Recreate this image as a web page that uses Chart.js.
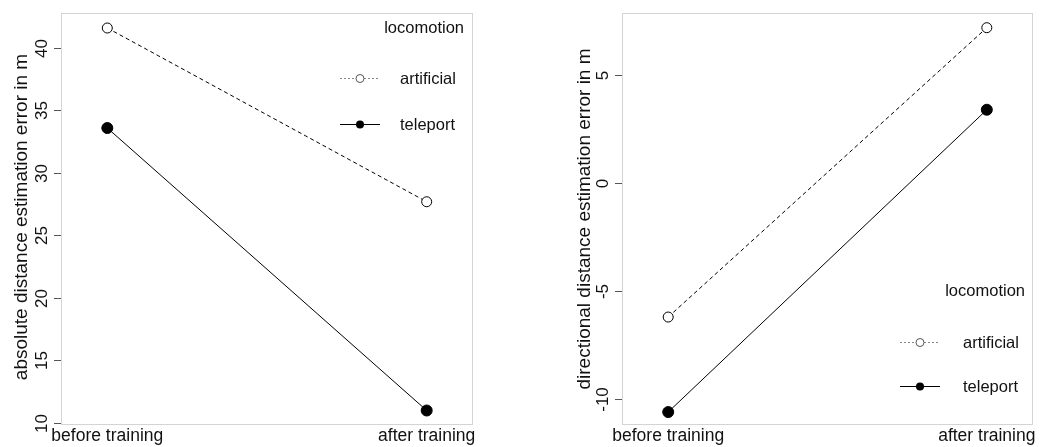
<!DOCTYPE html>
<html>
<head>
<meta charset="utf-8">
<script src="https://cdn.jsdelivr.net/npm/chart.js@4/dist/chart.umd.min.js"></script>
<style>
  body { margin: 0; background: #fff; }
  .panel { position: absolute; top: 0; height: 447px; }
</style>
</head>
<body>
<div class="panel" style="left:0;width:524px"><canvas id="absChart"></canvas></div>
<div class="panel" style="left:524px;width:525px"><canvas id="dirChart"></canvas></div>
<script>
// data
const phases = ['before training', 'after training'];
const phasePos = [1, 2];
const absArtificial = [41.6, 27.7];
const absTeleport = [33.6, 11.0];
const absTicks = [10, 15, 20, 25, 30, 35, 40];
const dirArtificial = [-6.2, 7.2];
const dirTeleport = [-10.6, 3.4];
const dirTicks = [-10, -5, 0, 5];
const groupNames = ['artificial', 'teleport'];
const legendTitle = 'locomotion';

const FONT = '"Liberation Sans", Arial, sans-serif';

function toPoints(vals) {
    return phasePos.map((x, i) => ({ x: x, y: vals[i] }));
}

// draws the R-style frame, axes and legend
function rStylePlugin(opt) {
    return {
        id: 'rstyle',
        afterDraw(chart) {
            const c = chart.ctx;
            const a = chart.chartArea;
            const ys = chart.scales.y, xs = chart.scales.x;
            c.save();
            // box
            c.strokeStyle = '#d4d4d4';
            c.lineWidth = 1;
            c.strokeRect(a.left + 0.5, a.top + 0.5, a.right - a.left - 1, a.bottom - a.top - 1);

            // y ticks
            c.strokeStyle = '#555';
            c.fillStyle = '#111';
            c.font = '17px ' + FONT;
            opt.ticks.forEach(t => {
                const py = Math.round(ys.getPixelForValue(t)) + 0.5;
                c.beginPath();
                c.moveTo(a.left - 7, py);
                c.lineTo(a.left, py);
                c.stroke();
                c.save();
                c.translate(a.left - 19, py);
                c.rotate(-Math.PI / 2);
                c.textAlign = 'center';
                c.textBaseline = 'middle';
                c.fillText(String(t), 0, 0);
                c.restore();
            });

            // y title
            c.save();
            c.font = '19px ' + FONT;
            c.translate(opt.titleX, opt.titleY);
            c.rotate(-Math.PI / 2);
            c.textAlign = 'center';
            c.textBaseline = 'middle';
            c.fillText(opt.title, 0, 0);
            c.restore();

            // x labels
            c.font = '17.5px ' + FONT;
            c.textAlign = 'center';
            c.textBaseline = 'middle';
            phases.forEach((p, i) => {
                c.fillText(p, xs.getPixelForValue(phasePos[i]), a.bottom + 11);
            });

            // legend
            const L = opt.legend;
            c.font = '16.5px ' + FONT;
            c.textAlign = 'right';
            c.fillText(legendTitle, L.titleRight, L.titleY);
            c.textAlign = 'left';
            groupNames.forEach((g, i) => {
                const ly = L.rows[i];
                c.beginPath();
                c.lineWidth = 1;
                if (i === 0) {
                    c.strokeStyle = '#888';
                    c.setLineDash([2, 2]);
                } else {
                    c.strokeStyle = '#000';
                    c.setLineDash([]);
                }
                c.moveTo(L.lineX0, ly + 0.5);
                c.lineTo(L.lineX1, ly + 0.5);
                c.stroke();
                c.setLineDash([]);
                c.beginPath();
                c.arc((L.lineX0 + L.lineX1) / 2, ly + 0.5, 4, 0, Math.PI * 2);
                if (i === 0) {
                    c.fillStyle = '#fff';
                    c.fill();
                    c.strokeStyle = '#555';
                    c.stroke();
                } else {
                    c.fillStyle = '#000';
                    c.fill();
                }
                c.fillStyle = '#111';
                c.fillText(g, L.textX, ly + 1);
            });
            c.restore();
        }
    };
}

function makeChart(id, artificial, teleport, opt) {
    new Chart(document.getElementById(id), {
        type: 'line',
        data: {
            datasets: [
                {
                    label: groupNames[0],
                    data: toPoints(artificial),
                    borderColor: '#000',
                    borderWidth: 1,
                    borderDash: [4, 3],
                    pointRadius: 5,
                    pointBackgroundColor: '#fff',
                    pointBorderColor: '#000',
                    pointBorderWidth: 1,
                    tension: 0
                },
                {
                    label: groupNames[1],
                    data: toPoints(teleport),
                    borderColor: '#000',
                    borderWidth: 1,
                    pointRadius: 5.5,
                    pointBackgroundColor: '#000',
                    pointBorderColor: '#000',
                    tension: 0
                }
            ]
        },
        options: {
            responsive: true,
            maintainAspectRatio: false,
            animation: false,
            layout: { padding: opt.padding },
            plugins: { legend: { display: false }, tooltip: { enabled: false } },
            scales: {
                x: { type: 'linear', min: 0.855, max: 2.145, display: false },
                y: { type: 'linear', min: opt.yMin, max: opt.yMax, display: false }
            }
        },
        plugins: [rStylePlugin(opt)]
    });
}

makeChart('absChart', absArtificial, absTeleport, {
    padding: { left: 61, top: 13, right: 51, bottom: 22 },
    yMin: 9.84, yMax: 42.8,
    ticks: absTicks,
    title: 'absolute distance estimation error in m',
    titleX: 22, titleY: 217,
    legend: { titleRight: 464, titleY: 28, rows: [78, 124], lineX0: 340, lineX1: 380, textX: 400 }
});

makeChart('dirChart', dirArtificial, dirTeleport, {
    padding: { left: 98, top: 13, right: 16, bottom: 22 },
    yMin: -11.2, yMax: 7.88,
    ticks: dirTicks,
    title: 'directional distance estimation error in m',
    titleX: 61, titleY: 219,
    legend: { titleRight: 501, titleY: 291, rows: [342, 386], lineX0: 376, lineX1: 416, textX: 439 }
});
</script>
</body>
</html>
